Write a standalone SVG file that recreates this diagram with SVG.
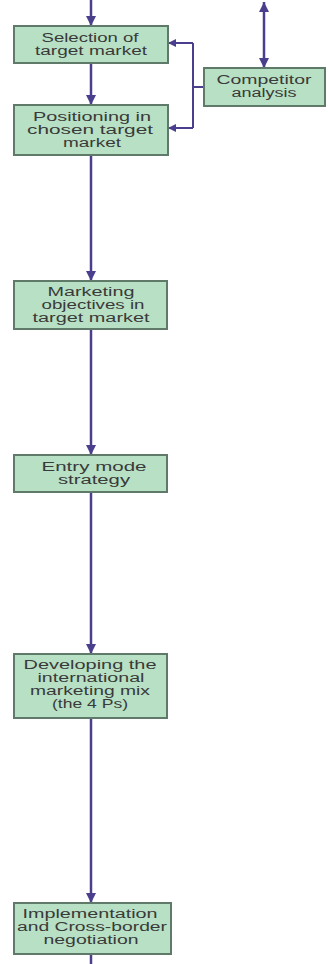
<svg xmlns="http://www.w3.org/2000/svg" width="328" height="964" viewBox="0 0 328 964">
<defs>
<marker id="ah" viewBox="0 0 10 10" refX="10" refY="5" markerWidth="4" markerHeight="4" orient="auto-start-reverse" markerUnits="strokeWidth">
<path d="M0,0 L10,5 L0,10 z" fill="#4a3f8c"/>
</marker>
<style>
.box{fill:#b8e0c4;stroke:#5f7a68;stroke-width:2}
.t{font-family:"Liberation Sans",Arial,sans-serif;font-size:12px;fill:#3a3a3a;text-anchor:middle}
.c{stroke:#4a3f8c;stroke-width:2.5;fill:none}
.b{stroke-width:2}
</style>
</defs>
<rect width="328" height="964" fill="#ffffff"/>
<g id="connectors">
<line class="c" x1="91" y1="0" x2="91" y2="26" marker-end="url(#ah)"/>
<line class="c" x1="91" y1="63" x2="91" y2="105" marker-end="url(#ah)"/>
<line class="c" x1="91" y1="155" x2="91" y2="281" marker-end="url(#ah)"/>
<line class="c" x1="91" y1="329" x2="91" y2="455" marker-end="url(#ah)"/>
<line class="c" x1="91" y1="492" x2="91" y2="654" marker-end="url(#ah)"/>
<line class="c" x1="91" y1="718" x2="91" y2="903" marker-end="url(#ah)"/>
<line class="c" x1="91" y1="954" x2="91" y2="964"/>
<line class="c" x1="264" y1="2" x2="264" y2="68" marker-start="url(#ah)" marker-end="url(#ah)"/>
<line class="c b" x1="193" y1="43" x2="193" y2="128"/>
<line class="c b" x1="193" y1="43" x2="168" y2="43" marker-end="url(#ah)"/>
<line class="c b" x1="193" y1="128" x2="168" y2="128" marker-end="url(#ah)"/>
<line class="c b" x1="193" y1="87" x2="204" y2="87"/>
</g>
<g id="selection">
<rect class="box" x="14" y="26" width="154" height="37"/>
<text class="t" x="90" y="42" textLength="97" lengthAdjust="spacingAndGlyphs">Selection of</text>
<text class="t" x="91" y="55" textLength="112" lengthAdjust="spacingAndGlyphs">target market</text>
</g>
<g id="positioning">
<rect class="box" x="14" y="105" width="154" height="50"/>
<text class="t" x="92" y="121" textLength="118" lengthAdjust="spacingAndGlyphs">Positioning in</text>
<text class="t" x="90" y="134" textLength="126" lengthAdjust="spacingAndGlyphs">chosen target</text>
<text class="t" x="92" y="147" textLength="58" lengthAdjust="spacingAndGlyphs">market</text>
</g>
<g id="competitor">
<rect class="box" x="204" y="68" width="121" height="38"/>
<text class="t" x="264" y="84" textLength="95" lengthAdjust="spacingAndGlyphs">Competitor</text>
<text class="t" x="264" y="97" textLength="65" lengthAdjust="spacingAndGlyphs">analysis</text>
</g>
<g id="objectives">
<rect class="box" x="14" y="281" width="153" height="48"/>
<text class="t" x="91" y="296" textLength="87" lengthAdjust="spacingAndGlyphs">Marketing</text>
<text class="t" x="93" y="309" textLength="103" lengthAdjust="spacingAndGlyphs">objectives in</text>
<text class="t" x="91" y="322" textLength="117" lengthAdjust="spacingAndGlyphs">target market</text>
</g>
<g id="entry">
<rect class="box" x="14" y="455" width="153" height="37"/>
<text class="t" x="94" y="471" textLength="105" lengthAdjust="spacingAndGlyphs">Entry mode</text>
<text class="t" x="94" y="484" textLength="72" lengthAdjust="spacingAndGlyphs">strategy</text>
</g>
<g id="mix">
<rect class="box" x="14" y="654" width="153" height="64"/>
<text class="t" x="90" y="669" textLength="133" lengthAdjust="spacingAndGlyphs">Developing the</text>
<text class="t" x="91" y="682" textLength="107" lengthAdjust="spacingAndGlyphs">international</text>
<text class="t" x="90" y="695" textLength="120" lengthAdjust="spacingAndGlyphs">marketing mix</text>
<text class="t" x="90" y="708" textLength="76" lengthAdjust="spacingAndGlyphs">(the 4 Ps)</text>
</g>
<g id="implementation">
<rect class="box" x="14" y="903" width="157" height="51"/>
<text class="t" x="90" y="918" textLength="135" lengthAdjust="spacingAndGlyphs">Implementation</text>
<text class="t" x="92" y="931" textLength="150" lengthAdjust="spacingAndGlyphs">and Cross-border</text>
<text class="t" x="91" y="944" textLength="95" lengthAdjust="spacingAndGlyphs">negotiation</text>
</g>
</svg>
